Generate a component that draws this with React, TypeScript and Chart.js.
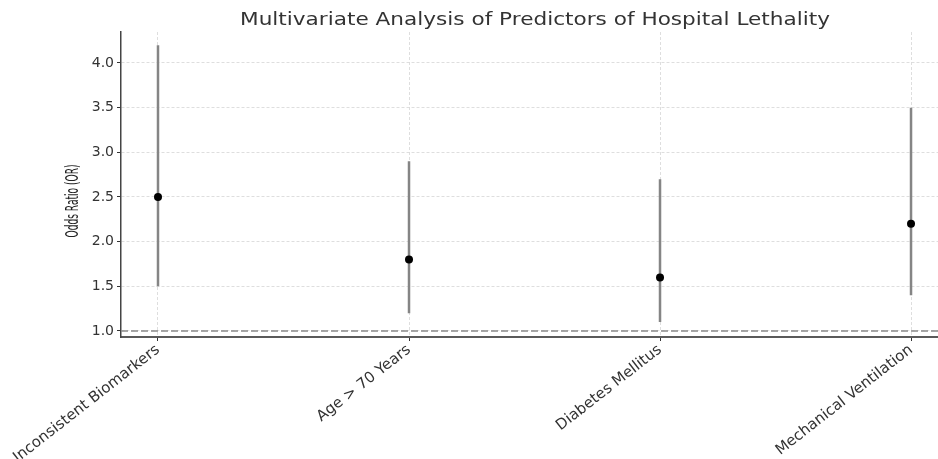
import React, { useEffect, useRef } from "react";
import { Chart, registerables } from "chart.js";

Chart.register(...registerables);

const titleText = "Multivariate Analysis of Predictors of Hospital Lethality";
const yAxisTitle = "Odds Ratio (OR)";
const categories = [
  "Inconsistent Biomarkers",
  "Age > 70 Years",
  "Diabetes Mellitus",
  "Mechanical Ventilation",
];
const oddsRatios = [2.5, 1.8, 1.6, 2.2];
const ciLower = [1.5, 1.2, 1.1, 1.4];
const ciUpper = [4.2, 2.9, 2.7, 3.5];
const yTicks = [1.0, 1.5, 2.0, 2.5, 3.0, 3.5, 4.0];
const referenceOR = 1.0;

const X_MIN = -0.1474;
const X_MAX = 3.1075;
const Y_MIN = 0.9328;
const Y_MAX = 4.347;

const textPlugin = {
  id: "customTexts",
  afterDraw(chart: any) {
    const { ctx } = chart;
    ctx.save();
    ctx.font = '17px "DejaVu Sans"';
    ctx.fillStyle = "#333333";
    ctx.textAlign = "center";
    ctx.textBaseline = "alphabetic";
    const tw = ctx.measureText(titleText).width;
    ctx.translate(535, 25);
    ctx.scale(590 / tw, 1);
    ctx.fillText(titleText, 0, 0);
    ctx.restore();

    ctx.save();
    ctx.font = '17px "DejaVu Sans"';
    ctx.fillStyle = "#222222";
    ctx.textAlign = "center";
    ctx.textBaseline = "alphabetic";
    const yw = ctx.measureText(yAxisTitle).width;
    ctx.translate(78, 201);
    ctx.rotate(-Math.PI / 2);
    ctx.scale(73 / yw, 1);
    ctx.fillText(yAxisTitle, 0, 0);
    ctx.restore();
  },
};

export default function App() {
  const canvasRef = useRef<HTMLCanvasElement | null>(null);

  useEffect(() => {
    document.body.style.margin = "0";
    const canvas = canvasRef.current;
    if (!canvas) return;

    const errorBarData: any[] = [];
    categories.forEach((_, i) => {
      errorBarData.push({ x: i, y: ciLower[i] });
      errorBarData.push({ x: i, y: ciUpper[i] });
      errorBarData.push({ x: i, y: null });
    });

    const chart = new Chart(canvas, {
      type: "scatter",
      data: {
        datasets: [
          {
            label: "Reference",
            data: [
              { x: X_MIN, y: referenceOR },
              { x: X_MAX, y: referenceOR },
            ],
            showLine: true,
            borderColor: "#8a8a8a",
            borderWidth: 1.5,
            borderDash: [7, 3],
            pointRadius: 0,
            order: 3,
          },
          {
            label: "95% CI",
            data: errorBarData,
            showLine: true,
            spanGaps: false,
            borderColor: "#858585",
            borderWidth: 2.5,
            pointRadius: 0,
            order: 2,
          },
          {
            label: "Odds Ratio",
            data: oddsRatios.map((v, i) => ({ x: i, y: v })),
            showLine: false,
            pointRadius: 4,
            pointBackgroundColor: "#000000",
            pointBorderColor: "#000000",
            pointBorderWidth: 0,
            order: 1,
          },
        ],
      },
      options: {
        animation: false,
        responsive: true,
        maintainAspectRatio: false,
        layout: { autoPadding: false, padding: { top: 32, left: 0, right: 0, bottom: 0 } },
        plugins: {
          legend: { display: false },
          title: { display: false },
          tooltip: { enabled: false },
        },
        scales: {
          x: {
            type: "linear",
            min: X_MIN,
            max: X_MAX,
            afterBuildTicks: (scale: any) => {
              scale.ticks = categories.map((_, i) => ({ value: i }));
            },
            afterFit: (scale: any) => {
              scale.height = 122;
              scale.paddingLeft = 0;
              scale.paddingRight = 0;
            },
            ticks: {
              autoSkip: false,
              minRotation: 38,
              maxRotation: 38,
              padding: 0,
              color: "#333333",
              font: { family: "DejaVu Sans", size: 15 },
              callback: (v: any) => categories[v as number] ?? "",
            },
            grid: {
              color: "#d6d6d6",
              lineWidth: 0.8,
              tickLength: 4,
              tickColor: "#333333",
              tickWidth: 1,
            },
            border: { display: true, color: "#5a5a5a", width: 2, dash: [3, 2] },
          },
          y: {
            type: "linear",
            min: Y_MIN,
            max: Y_MAX,
            afterBuildTicks: (scale: any) => {
              scale.ticks = yTicks.map((v) => ({ value: v }));
            },
            afterFit: (scale: any) => {
              scale.width = 121;
              scale.paddingTop = 0;
              scale.paddingBottom = 0;
            },
            ticks: {
              padding: 3,
              color: "#333333",
              font: { family: "DejaVu Sans", size: 14 },
              callback: (v: any) => Number(v).toFixed(1),
            },
            grid: {
              color: "#d6d6d6",
              lineWidth: 0.8,
              tickLength: 4,
              tickColor: "#333333",
              tickWidth: 1,
            },
            border: { display: true, color: "#444444", width: 1.5, dash: [3, 2] },
          },
        },
      },
      plugins: [textPlugin],
    });

    return () => {
      chart.destroy();
    };
  }, []);

  return (
    <div style={{ width: 938, height: 459, position: "relative" }}>
      <canvas ref={canvasRef} />
    </div>
  );
}
